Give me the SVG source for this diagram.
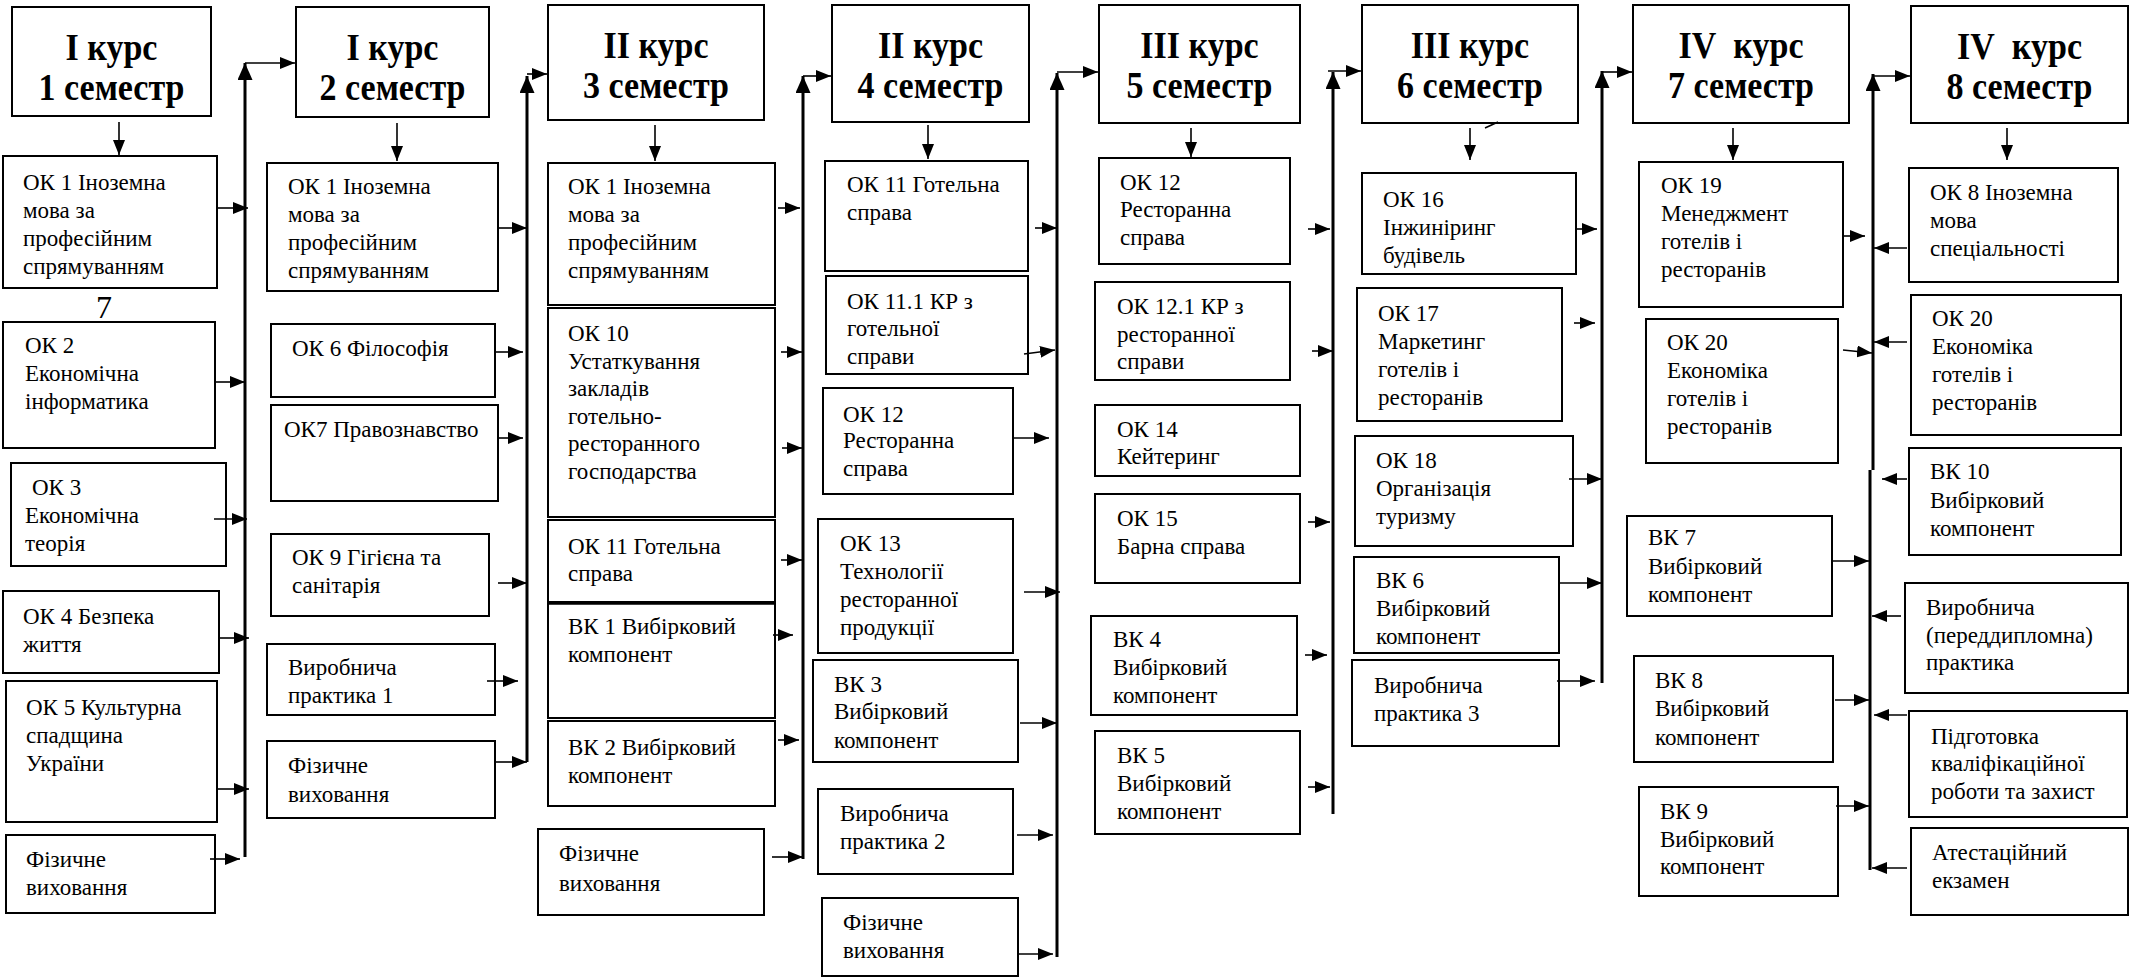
<svg xmlns="http://www.w3.org/2000/svg" width="2138" height="980" viewBox="0 0 2138 980" font-family="Liberation Serif, Times New Roman, serif">
<style>
text{font-family:'Liberation Serif','Times New Roman',serif}
.box{fill:#fff;stroke:#000;stroke-width:2}
.t{font-size:23px;fill:#000}
.h{font-size:37px;font-weight:bold;fill:#000;text-anchor:middle}
.c{fill:none;stroke:#000;stroke-width:1.6}
.v{fill:none;stroke:#000;stroke-width:3}
</style>
<defs>
<marker id="ah" markerUnits="userSpaceOnUse" markerWidth="15" markerHeight="12" refX="15" refY="6" orient="auto"><path d="M0,0 L15,6 L0,12 z" fill="#000"/></marker>
<marker id="ahb" markerUnits="userSpaceOnUse" markerWidth="17" markerHeight="15" refX="17" refY="7.5" orient="auto"><path d="M0,0 L17,7.5 L0,15 z" fill="#000"/></marker>
</defs>
<rect width="2138" height="980" fill="#fff"/>

<!-- Column 1 -->
<g id="h1"><rect class="box" x="12" y="7" width="199" height="109"/><text class="h" transform="translate(111.5 0) scale(0.92 1)"><tspan x="0" y="60">I курс</tspan><tspan x="0" y="100">1 семестр</tspan></text></g>
<g id="c1ok1"><rect class="box" x="3" y="156" width="214" height="132"/><text class="t"><tspan x="23" y="190">ОК 1 Іноземна</tspan><tspan x="23" y="218">мова за</tspan><tspan x="23" y="246">професійним</tspan><tspan x="23" y="274">спрямуванням</tspan></text></g>
<g id="c1num"><text x="104" y="318" font-size="32" text-anchor="middle">7</text></g>
<g id="c1ok2"><rect class="box" x="3" y="322" width="212" height="126"/><text class="t"><tspan x="25" y="353">ОК 2</tspan><tspan x="25" y="381">Економічна</tspan><tspan x="25" y="409">інформатика</tspan></text></g>
<g id="c1ok3"><rect class="box" x="11" y="463" width="215" height="103"/><text class="t"><tspan x="32" y="495">ОК 3</tspan><tspan x="25" y="523">Економічна</tspan><tspan x="25" y="551">теорія</tspan></text></g>
<g id="c1ok4"><rect class="box" x="3" y="591" width="216" height="82"/><text class="t"><tspan x="23" y="624">ОК 4 Безпека</tspan><tspan x="23" y="652">життя</tspan></text></g>
<g id="c1ok5"><rect class="box" x="6" y="681" width="211" height="141"/><text class="t"><tspan x="26" y="715">ОК 5 Культурна</tspan><tspan x="26" y="743">спадщина</tspan><tspan x="26" y="771">України</tspan></text></g>
<g id="c1fiz"><rect class="box" x="6" y="835" width="209" height="78"/><text class="t"><tspan x="26" y="867">Фізичне</tspan><tspan x="26" y="895">виховання</tspan></text></g>

<!-- Column 2 -->
<g id="h2"><rect class="box" x="296" y="7" width="193" height="110"/><text class="h" transform="translate(392.5 0) scale(0.92 1)"><tspan x="0" y="60">I курс</tspan><tspan x="0" y="100">2 семестр</tspan></text></g>
<g id="c2ok1"><rect class="box" x="267" y="163" width="231" height="128"/><text class="t"><tspan x="288" y="194">ОК 1 Іноземна</tspan><tspan x="288" y="222">мова за</tspan><tspan x="288" y="250">професійним</tspan><tspan x="288" y="278">спрямуванням</tspan></text></g>
<g id="c2ok6"><rect class="box" x="271" y="324" width="224" height="73"/><text class="t"><tspan x="292" y="356">ОК 6 Філософія</tspan></text></g>
<g id="c2ok7"><rect class="box" x="271" y="405" width="227" height="96"/><text class="t"><tspan x="284" y="437">ОК7 Правознавство</tspan></text></g>
<g id="c2ok9"><rect class="box" x="271" y="534" width="218" height="82"/><text class="t"><tspan x="292" y="565">ОК 9 Гігієна та</tspan><tspan x="292" y="593">санітарія</tspan></text></g>
<g id="c2vp1"><rect class="box" x="267" y="644" width="228" height="71"/><text class="t"><tspan x="288" y="675">Виробнича</tspan><tspan x="288" y="703">практика 1</tspan></text></g>
<g id="c2fiz"><rect class="box" x="267" y="741" width="228" height="77"/><text class="t"><tspan x="288" y="773">Фізичне</tspan><tspan x="288" y="802">виховання</tspan></text></g>

<!-- Column 3 -->
<g id="h3"><rect class="box" x="548" y="5" width="216" height="115"/><text class="h" transform="translate(656 0) scale(0.92 1)"><tspan x="0" y="58">II курс</tspan><tspan x="0" y="98">3 семестр</tspan></text></g>
<g id="c3ok1"><rect class="box" x="548" y="163" width="227" height="142"/><text class="t"><tspan x="568" y="194">ОК 1 Іноземна</tspan><tspan x="568" y="222">мова за</tspan><tspan x="568" y="250">професійним</tspan><tspan x="568" y="278">спрямуванням</tspan></text></g>
<g id="c3ok10"><rect class="box" x="548" y="308" width="227" height="209"/><text class="t"><tspan x="568" y="341">ОК 10</tspan><tspan x="568" y="368.5">Устаткування</tspan><tspan x="568" y="396">закладів</tspan><tspan x="568" y="423.5">готельно-</tspan><tspan x="568" y="451">ресторанного</tspan><tspan x="568" y="478.5">господарства</tspan></text></g>
<g id="c3ok11"><rect class="box" x="548" y="520" width="227" height="82"/><text class="t"><tspan x="568" y="554">ОК 11 Готельна</tspan><tspan x="568" y="581">справа</tspan></text></g>
<g id="c3vk1"><rect class="box" x="548" y="603" width="227" height="115"/><line x1="548" y1="603" x2="775" y2="603" stroke="#000" stroke-width="3.5"/><text class="t"><tspan x="568" y="634">ВК 1 Вибірковий</tspan><tspan x="568" y="662">компонент</tspan></text></g>
<g id="c3vk2"><rect class="box" x="548" y="721" width="227" height="85"/><text class="t"><tspan x="568" y="755">ВК 2 Вибірковий</tspan><tspan x="568" y="783">компонент</tspan></text></g>
<g id="c3fiz"><rect class="box" x="538" y="829" width="226" height="86"/><text class="t"><tspan x="559" y="861">Фізичне</tspan><tspan x="559" y="891">виховання</tspan></text></g>

<!-- Column 4 -->
<g id="h4"><rect class="box" x="832" y="5" width="197" height="117"/><text class="h" transform="translate(930.5 0) scale(0.92 1)"><tspan x="0" y="58">II курс</tspan><tspan x="0" y="98">4 семестр</tspan></text></g>
<g id="c4ok11"><rect class="box" x="825" y="161" width="203" height="110"/><text class="t"><tspan x="847" y="192">ОК 11 Готельна</tspan><tspan x="847" y="220">справа</tspan></text></g>
<g id="c4ok111"><rect class="box" x="826" y="276" width="202" height="98"/><text class="t"><tspan x="847" y="309">ОК 11.1 КР з</tspan><tspan x="847" y="336">готельної</tspan><tspan x="847" y="364">справи</tspan></text></g>
<g id="c4ok12"><rect class="box" x="823" y="388" width="190" height="106"/><text class="t"><tspan x="843" y="422">ОК 12</tspan><tspan x="843" y="448">Ресторанна</tspan><tspan x="843" y="476">справа</tspan></text></g>
<g id="c4ok13"><rect class="box" x="818" y="519" width="195" height="134"/><text class="t"><tspan x="840" y="551">ОК 13</tspan><tspan x="840" y="579">Технології</tspan><tspan x="840" y="607">ресторанної</tspan><tspan x="840" y="635">продукції</tspan></text></g>
<g id="c4vk3"><rect class="box" x="813" y="660" width="205" height="102"/><text class="t"><tspan x="834" y="692">ВК 3</tspan><tspan x="834" y="719">Вибірковий</tspan><tspan x="834" y="748">компонент</tspan></text></g>
<g id="c4vp2"><rect class="box" x="818" y="789" width="195" height="85"/><text class="t"><tspan x="840" y="821">Виробнича</tspan><tspan x="840" y="849">практика 2</tspan></text></g>
<g id="c4fiz"><rect class="box" x="822" y="898" width="196" height="78"/><text class="t"><tspan x="843" y="930">Фізичне</tspan><tspan x="843" y="958">виховання</tspan></text></g>

<!-- Column 5 -->
<g id="h5"><rect class="box" x="1099" y="5" width="201" height="118"/><text class="h" transform="translate(1199.5 0) scale(0.92 1)"><tspan x="0" y="58">III курс</tspan><tspan x="0" y="98">5 семестр</tspan></text></g>
<g id="c5ok12"><rect class="box" x="1099" y="158" width="191" height="106"/><text class="t"><tspan x="1120" y="190">ОК 12</tspan><tspan x="1120" y="217">Ресторанна</tspan><tspan x="1120" y="245">справа</tspan></text></g>
<g id="c5ok121"><rect class="box" x="1095" y="282" width="195" height="98"/><text class="t"><tspan x="1117" y="314">ОК 12.1 КР з</tspan><tspan x="1117" y="342">ресторанної</tspan><tspan x="1117" y="369">справи</tspan></text></g>
<g id="c5ok14"><rect class="box" x="1095" y="405" width="205" height="71"/><text class="t"><tspan x="1117" y="437">ОК 14</tspan><tspan x="1117" y="464">Кейтеринг</tspan></text></g>
<g id="c5ok15"><rect class="box" x="1095" y="494" width="205" height="89"/><text class="t"><tspan x="1117" y="526">ОК 15</tspan><tspan x="1117" y="554">Барна справа</tspan></text></g>
<g id="c5vk4"><rect class="box" x="1091" y="616" width="206" height="99"/><text class="t"><tspan x="1113" y="647">ВК 4</tspan><tspan x="1113" y="675">Вибірковий</tspan><tspan x="1113" y="703">компонент</tspan></text></g>
<g id="c5vk5"><rect class="box" x="1095" y="731" width="205" height="103"/><text class="t"><tspan x="1117" y="763">ВК 5</tspan><tspan x="1117" y="791">Вибірковий</tspan><tspan x="1117" y="819">компонент</tspan></text></g>

<!-- Column 6 -->
<g id="h6"><rect class="box" x="1362" y="5" width="216" height="118"/><text class="h" transform="translate(1470 0) scale(0.92 1)"><tspan x="0" y="58">III курс</tspan><tspan x="0" y="98">6 семестр</tspan></text></g>
<g id="c6ok16"><rect class="box" x="1362" y="173" width="214" height="101"/><text class="t"><tspan x="1383" y="207">ОК 16</tspan><tspan x="1383" y="235">Інжиніринг</tspan><tspan x="1383" y="263">будівель</tspan></text></g>
<g id="c6ok17"><rect class="box" x="1357" y="288" width="205" height="133"/><text class="t"><tspan x="1378" y="321">ОК 17</tspan><tspan x="1378" y="349">Маркетинг</tspan><tspan x="1378" y="377">готелів і</tspan><tspan x="1378" y="405">ресторанів</tspan></text></g>
<g id="c6ok18"><rect class="box" x="1355" y="436" width="218" height="110"/><text class="t"><tspan x="1376" y="468">ОК 18</tspan><tspan x="1376" y="496">Організація</tspan><tspan x="1376" y="524">туризму</tspan></text></g>
<g id="c6vk6"><rect class="box" x="1354" y="557" width="205" height="96"/><text class="t"><tspan x="1376" y="588">ВК 6</tspan><tspan x="1376" y="616">Вибірковий</tspan><tspan x="1376" y="644">компонент</tspan></text></g>
<g id="c6vp3"><rect class="box" x="1352" y="660" width="207" height="86"/><text class="t"><tspan x="1374" y="693">Виробнича</tspan><tspan x="1374" y="721">практика 3</tspan></text></g>

<!-- Column 7 -->
<g id="h7"><rect class="box" x="1633" y="5" width="216" height="118"/><text class="h" transform="translate(1741 0) scale(0.92 1)"><tspan x="0" y="58">IV&#160; курс</tspan><tspan x="0" y="98">7 семестр</tspan></text></g>
<g id="c7ok19"><rect class="box" x="1639" y="162" width="204" height="145"/><text class="t"><tspan x="1661" y="193">ОК 19</tspan><tspan x="1661" y="221">Менеджмент</tspan><tspan x="1661" y="249">готелів і</tspan><tspan x="1661" y="277">ресторанів</tspan></text></g>
<g id="c7ok20"><rect class="box" x="1646" y="319" width="192" height="144"/><text class="t"><tspan x="1667" y="350">ОК 20</tspan><tspan x="1667" y="378">Економіка</tspan><tspan x="1667" y="406">готелів і</tspan><tspan x="1667" y="434">ресторанів</tspan></text></g>
<g id="c7vk7"><rect class="box" x="1627" y="516" width="205" height="100"/><text class="t"><tspan x="1648" y="545">ВК 7</tspan><tspan x="1648" y="574">Вибірковий</tspan><tspan x="1648" y="602">компонент</tspan></text></g>
<g id="c7vk8"><rect class="box" x="1634" y="656" width="199" height="106"/><text class="t"><tspan x="1655" y="688">ВК 8</tspan><tspan x="1655" y="716">Вибірковий</tspan><tspan x="1655" y="745">компонент</tspan></text></g>
<g id="c7vk9"><rect class="box" x="1639" y="787" width="199" height="109"/><text class="t"><tspan x="1660" y="819">ВК 9</tspan><tspan x="1660" y="847">Вибірковий</tspan><tspan x="1660" y="874">компонент</tspan></text></g>

<!-- Column 8 -->
<g id="h8"><rect class="box" x="1911" y="6" width="217" height="117"/><text class="h" transform="translate(2019.5 0) scale(0.92 1)"><tspan x="0" y="59">IV&#160; курс</tspan><tspan x="0" y="99">8 семестр</tspan></text></g>
<g id="c8ok8"><rect class="box" x="1909" y="168" width="209" height="114"/><text class="t"><tspan x="1930" y="200">ОК 8 Іноземна</tspan><tspan x="1930" y="228">мова</tspan><tspan x="1930" y="256">спеціальності</tspan></text></g>
<g id="c8ok20"><rect class="box" x="1911" y="295" width="210" height="140"/><text class="t"><tspan x="1932" y="326">ОК 20</tspan><tspan x="1932" y="354">Економіка</tspan><tspan x="1932" y="382">готелів і</tspan><tspan x="1932" y="410">ресторанів</tspan></text></g>
<g id="c8vk10"><rect class="box" x="1909" y="448" width="212" height="107"/><text class="t"><tspan x="1930" y="479">ВК 10</tspan><tspan x="1930" y="508">Вибірковий</tspan><tspan x="1930" y="536">компонент</tspan></text></g>
<g id="c8vp"><rect class="box" x="1905" y="583" width="223" height="110"/><text class="t"><tspan x="1926" y="615">Виробнича</tspan><tspan x="1926" y="643">(переддипломна)</tspan><tspan x="1926" y="670">практика</tspan></text></g>
<g id="c8kr"><rect class="box" x="1909" y="711" width="218" height="106"/><text class="t"><tspan x="1931" y="744">Підготовка</tspan><tspan x="1931" y="771">кваліфікаційної</tspan><tspan x="1931" y="799">роботи та захист</tspan></text></g>
<g id="c8ae"><rect class="box" x="1911" y="828" width="217" height="87"/><text class="t"><tspan x="1932" y="860">Атестаційний</tspan><tspan x="1932" y="888">екзамен</tspan></text></g>

<g id="connectors">
<line class="c" x1="119" y1="122" x2="119" y2="155" marker-end="url(#ah)"/>
<line class="c" x1="397" y1="123" x2="397" y2="161" marker-end="url(#ah)"/>
<line class="c" x1="655" y1="125" x2="655" y2="161" marker-end="url(#ah)"/>
<line class="c" x1="928" y1="125" x2="928" y2="159" marker-end="url(#ah)"/>
<line class="c" x1="1191" y1="128" x2="1191" y2="157" marker-end="url(#ah)"/>
<line class="c" x1="1470" y1="128" x2="1470" y2="160" marker-end="url(#ah)"/>
<line class="c" x1="1733" y1="128" x2="1733" y2="160" marker-end="url(#ah)"/>
<line class="c" x1="2007" y1="128" x2="2007" y2="160" marker-end="url(#ah)"/>
<path class="c" d="M1485,128 L1498,122"/>

<line class="v" x1="245" y1="857" x2="245" y2="63" marker-end="url(#ahb)"/>
<line class="c" x1="245" y1="63" x2="295" y2="63" marker-end="url(#ah)"/>
<line class="v" x1="527" y1="762" x2="527" y2="76" marker-end="url(#ahb)"/>
<line class="c" x1="527" y1="74" x2="547" y2="74" marker-end="url(#ah)"/>
<line class="v" x1="803" y1="859" x2="803" y2="76" marker-end="url(#ahb)"/>
<line class="c" x1="803" y1="76" x2="831" y2="76" marker-end="url(#ah)"/>
<line class="v" x1="1057" y1="957" x2="1057" y2="73" marker-end="url(#ahb)"/>
<line class="c" x1="1057" y1="72" x2="1098" y2="72" marker-end="url(#ah)"/>
<line class="v" x1="1333" y1="814" x2="1333" y2="72" marker-end="url(#ahb)"/>
<line class="c" x1="1328" y1="71" x2="1361" y2="71" marker-end="url(#ah)"/>
<line class="v" x1="1602" y1="683" x2="1602" y2="71" marker-end="url(#ahb)"/>
<line class="c" x1="1602" y1="72" x2="1632" y2="72" marker-end="url(#ah)"/>
<line class="v" x1="1870" y1="870" x2="1870" y2="470"/>
<line class="v" x1="1873" y1="470" x2="1873" y2="74" marker-end="url(#ahb)"/>
<line class="c" x1="1873" y1="76" x2="1910" y2="76" marker-end="url(#ah)"/>

<line class="c" x1="216" y1="208" x2="248" y2="208" marker-end="url(#ah)"/>
<line class="c" x1="215" y1="382" x2="245" y2="382" marker-end="url(#ah)"/>
<line class="c" x1="214" y1="519" x2="247" y2="519" marker-end="url(#ah)"/>
<line class="c" x1="219" y1="638" x2="249" y2="638" marker-end="url(#ah)"/>
<line class="c" x1="217" y1="789" x2="249" y2="789" marker-end="url(#ah)"/>
<line class="c" x1="210" y1="859" x2="240" y2="859" marker-end="url(#ah)"/>
<line class="c" x1="498" y1="228" x2="527" y2="228" marker-end="url(#ah)"/>
<line class="c" x1="495" y1="352" x2="523" y2="352" marker-end="url(#ah)"/>
<line class="c" x1="498" y1="438" x2="523" y2="438" marker-end="url(#ah)"/>
<line class="c" x1="498" y1="583" x2="527" y2="583" marker-end="url(#ah)"/>
<line class="c" x1="487" y1="681" x2="518" y2="681" marker-end="url(#ah)"/>
<line class="c" x1="495" y1="762" x2="527" y2="762" marker-end="url(#ah)"/>
<line class="c" x1="778" y1="208" x2="800" y2="208" marker-end="url(#ah)"/>
<line class="c" x1="781" y1="352" x2="802" y2="352" marker-end="url(#ah)"/>
<line class="c" x1="782" y1="448" x2="802" y2="448" marker-end="url(#ah)"/>
<line class="c" x1="781" y1="560" x2="802" y2="560" marker-end="url(#ah)"/>
<line class="c" x1="773" y1="635" x2="793" y2="635" marker-end="url(#ah)"/>
<line class="c" x1="778" y1="740" x2="799" y2="740" marker-end="url(#ah)"/>
<line class="c" x1="772" y1="857" x2="803" y2="857" marker-end="url(#ah)"/>
<line class="c" x1="1035" y1="228" x2="1057" y2="228" marker-end="url(#ah)"/>
<line class="c" x1="1024" y1="354" x2="1055" y2="350" marker-end="url(#ah)"/>
<line class="c" x1="1013" y1="438" x2="1049" y2="438" marker-end="url(#ah)"/>
<line class="c" x1="1024" y1="592" x2="1060" y2="592" marker-end="url(#ah)"/>
<line class="c" x1="1020" y1="723" x2="1057" y2="723" marker-end="url(#ah)"/>
<line class="c" x1="1017" y1="835" x2="1053" y2="835" marker-end="url(#ah)"/>
<line class="c" x1="1017" y1="954" x2="1053" y2="954" marker-end="url(#ah)"/>
<line class="c" x1="1308" y1="229" x2="1330" y2="229" marker-end="url(#ah)"/>
<line class="c" x1="1312" y1="351" x2="1333" y2="351" marker-end="url(#ah)"/>
<line class="c" x1="1308" y1="522" x2="1330" y2="522" marker-end="url(#ah)"/>
<line class="c" x1="1305" y1="655" x2="1327" y2="655" marker-end="url(#ah)"/>
<line class="c" x1="1308" y1="787" x2="1330" y2="787" marker-end="url(#ah)"/>
<line class="c" x1="1576" y1="229" x2="1597" y2="229" marker-end="url(#ah)"/>
<line class="c" x1="1574" y1="323" x2="1595" y2="323" marker-end="url(#ah)"/>
<line class="c" x1="1569" y1="479" x2="1602" y2="479" marker-end="url(#ah)"/>
<line class="c" x1="1559" y1="583" x2="1602" y2="583" marker-end="url(#ah)"/>
<line class="c" x1="1557" y1="681" x2="1595" y2="681" marker-end="url(#ah)"/>
<line class="c" x1="1843" y1="236" x2="1865" y2="236" marker-end="url(#ah)"/>
<line class="c" x1="1843" y1="350" x2="1872" y2="353" marker-end="url(#ah)"/>
<line class="c" x1="1832" y1="561" x2="1869" y2="561" marker-end="url(#ah)"/>
<line class="c" x1="1835" y1="700" x2="1869" y2="700" marker-end="url(#ah)"/>
<line class="c" x1="1836" y1="806" x2="1869" y2="806" marker-end="url(#ah)"/>
<line class="c" x1="1907" y1="248" x2="1874" y2="248" marker-end="url(#ah)"/>
<line class="c" x1="1907" y1="342" x2="1874" y2="342" marker-end="url(#ah)"/>
<line class="c" x1="1907" y1="479" x2="1882" y2="479" marker-end="url(#ah)"/>
<line class="c" x1="1901" y1="616" x2="1872" y2="616" marker-end="url(#ah)"/>
<line class="c" x1="1907" y1="715" x2="1874" y2="715" marker-end="url(#ah)"/>
<line class="c" x1="1907" y1="868" x2="1872" y2="868" marker-end="url(#ah)"/>
</g>
</svg>
